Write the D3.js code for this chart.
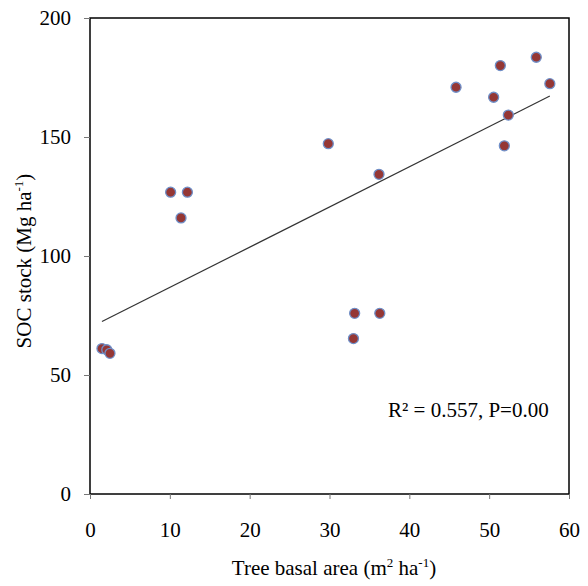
<!DOCTYPE html>
<html><head><meta charset="utf-8">
<script src="https://cdn.jsdelivr.net/npm/d3@7"></script>
<style>body{margin:0;background:#fff}svg{display:block}svg text{font-family:"Liberation Serif","Times New Roman",serif !important;fill:#000}</style>
</head><body>
<svg id="c" width="588" height="586"></svg>
<script>
const basalArea = [1.5,2.1,2.5,10.1,11.4,12.2,29.85,33.0,33.15,36.2,36.3,45.85,50.56,51.4,51.9,52.4,55.9,57.6];
const socStock  = [61.1,60.6,59.1,126.8,116,126.8,147.2,65.3,75.9,134.3,75.9,170.9,166.7,180,146.3,159.2,183.5,172.4];
const xTicks = [0,10,20,30,40,50,60];
const yTicks = [0,50,100,150,200];
const annotation = "R² = 0.557, P=0.00";

const svg = d3.select("#c");
const m = {l:90, r:569, t:18, b:494};
const x = d3.scaleLinear().domain([0,60]).range([m.l,m.r]);
const y = d3.scaleLinear().domain([0,200]).range([m.b,m.t]);

svg.append("rect").attr("x",m.l).attr("y",m.t).attr("width",m.r-m.l).attr("height",m.b-m.t)
  .attr("fill","none").attr("stroke","#000").attr("stroke-width",1.5);

const xa = svg.append("g").attr("transform",`translate(0,${m.b})`)
  .call(d3.axisBottom(x).tickValues(xTicks).tickSize(5).tickPadding(23));
const ya = svg.append("g").attr("transform",`translate(${m.l},0)`)
  .call(d3.axisLeft(y).tickValues(yTicks).tickSize(6).tickPadding(13));
[xa,ya].forEach(g=>{
  g.attr("font-family","Liberation Serif, serif").attr("font-size",21);
  g.select(".domain").remove();
  g.selectAll(".tick line").attr("stroke","#777");
});

const n = basalArea.length;
const mx = d3.mean(basalArea), my = d3.mean(socStock);
let sxy=0,sxx=0;
for(let i=0;i<n;i++){sxy+=(basalArea[i]-mx)*(socStock[i]-my);sxx+=(basalArea[i]-mx)**2;}
const b = sxy/sxx, a = my-b*mx;
const x0 = d3.min(basalArea), x1 = d3.max(basalArea);
svg.append("line").attr("x1",x(x0)).attr("y1",y(a+b*x0)).attr("x2",x(x1)).attr("y2",y(a+b*x1))
  .attr("stroke","#333").attr("stroke-width",1.2);

svg.append("g").selectAll("circle").data(d3.range(n)).join("circle")
  .attr("cx",i=>x(basalArea[i])).attr("cy",i=>y(socStock[i])).attr("r",5)
  .attr("fill","#953735").attr("stroke","#6f8fc8").attr("stroke-width",1.3);

svg.append("text").attr("x",388).attr("y",417).style("font-size","21px").text(annotation);

const xt = svg.append("text").attr("x",334).attr("y",575).attr("text-anchor","middle").style("font-size","21px");
xt.append("tspan").text("Tree basal area (m");
xt.append("tspan").attr("dy",-8).style("font-size","13px").text("2");
xt.append("tspan").attr("dy",8).text(" ha");
xt.append("tspan").attr("dy",-8).style("font-size","13px").text("-1");
xt.append("tspan").attr("dy",8).text(")");

const yt = svg.append("text").attr("transform","translate(31,261) rotate(-90)").attr("text-anchor","middle").style("font-size","21px");
yt.append("tspan").text("SOC stock (Mg ha");
yt.append("tspan").attr("dy",-8).style("font-size","13px").text("-1");
yt.append("tspan").attr("dy",8).text(")");
</script>
</body></html>
